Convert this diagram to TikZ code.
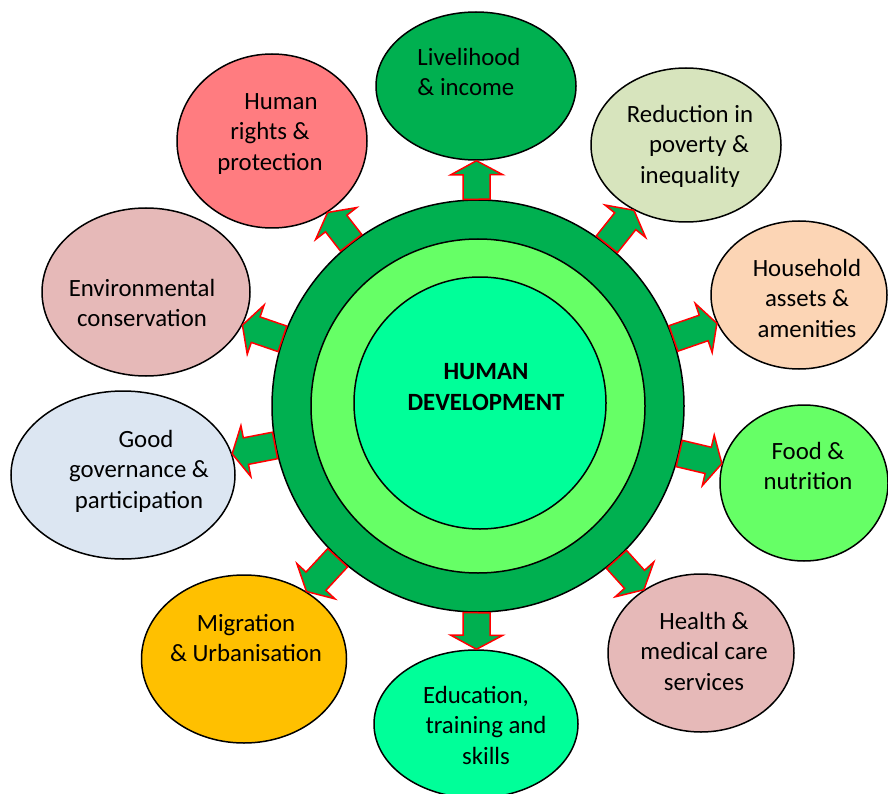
\documentclass[tikz,border=0pt]{standalone}
\usepackage{fontspec}
\setmainfont{Carlito}
\usetikzlibrary{shapes.geometric,calc}
\definecolor{hdgreen}{HTML}{00B050}
\definecolor{hdlight}{HTML}{66FF66}
\definecolor{hdcore}{HTML}{00FF99}
\definecolor{olive}{HTML}{D7E4BD}
\definecolor{peach}{HTML}{FCD5B5}
\definecolor{rose}{HTML}{E6B9B8}
\definecolor{steel}{HTML}{DCE6F2}
\definecolor{amber}{HTML}{FFC000}
\definecolor{salmon}{HTML}{FF7C80}

\begin{document}
\begin{tikzpicture}[x=1pt,y=-1pt,
		ring/.style={circle,draw=black,line width=1.5pt,inner sep=0pt},
		sat/.style={ellipse,draw=black,line width=1.5pt,inner sep=0pt},
		lbl/.style={align=center,font=\fontsize{24.8}{30.5}\selectfont},
		arrowbox/.style={fill=hdgreen,draw=red,line width=1.5pt,line join=miter}]
		\useasboundingbox (0,0) rectangle (888,794);
		\node[ring,fill=hdgreen,minimum size=412pt] (hub) at (478,406) {};
		\node[ring,fill=hdlight,minimum size=334pt] (mid) at (478,406) {};
		\node[ring,fill=hdcore,minimum size=252pt] (core) at (480,403) {};
		\node[lbl,font=\fontsize{24.8}{30.5}\selectfont\bfseries] (title) at (486,387) {HUMAN\\DEVELOPMENT};
		\node[sat,fill=hdgreen,minimum width=200pt,minimum height=148pt] (live) at (476,86) {};
		\node[sat,fill=olive,minimum width=190pt,minimum height=154pt] (pov) at (686,145) {};
		\node[sat,fill=peach,minimum width=176pt,minimum height=148pt] (house) at (799,295) {};
		\node[sat,fill=hdlight,minimum width=168pt,minimum height=156pt] (food) at (804,483) {};
		\node[sat,fill=rose,minimum width=186pt,minimum height=158pt] (health) at (701,653) {};
		\node[sat,fill=hdcore,minimum width=204pt,minimum height=148pt] (edu) at (476,724) {};
		\node[sat,fill=amber,minimum width=205pt,minimum height=168pt] (migr) at (244,659) {};
		\node[sat,fill=steel,minimum width=224pt,minimum height=168pt] (gov) at (123,475) {};
		\node[sat,fill=rose,minimum width=208pt,minimum height=168pt] (env) at (146,292) {};
		\node[sat,fill=salmon,minimum width=190pt,minimum height=174pt] (rights) at (272,141) {};
		\node[lbl,align=left] (live-t) at (469,72) {Livelihood\\\& income};
		\node[lbl] (pov-t) at (690,146) {Reduction in\\\hspace*{18pt}poverty \&\\inequality};
		\node[lbl] (house-t) at (807,298) {Household\\assets \&\\amenities};
		\node[lbl] (food-t) at (808,466) {Food \&\\nutrition};
		\node[lbl] (health-t) at (704,651) {Health \&\\medical care\\services};
		\node[lbl] (edu-t) at (486,725) {Education,\hspace*{20pt}\\training and\\skills};
		\node[lbl] (migr-t) at (246,638) {Migration\\\& Urbanisation};
		\node[lbl] (gov-t) at (139,471) {\hspace*{14pt}Good\\governance \&\\participation};
		\node[lbl] (env-t) at (142,303) {Environmental\\conservation};
		\node[lbl] (rights-t) at (270,134) {\hspace*{22pt}Human\\rights \&\\protection};
		\foreach \s in {live,pov,house,food,health,edu,migr,gov,env,rights}{
			\path (hub) -- coordinate[pos=0] (a) coordinate[pos=1] (b) (\s);
			\coordinate (h) at ($(b)!14pt!(a)$);
			\draw[arrowbox] ($(a)!13.5pt!90:(b)$) -- ($(h)!13.5pt!90:(b)$) -- ($(h)!26pt!90:(b)$) -- (b)
				-- ($(h)!26pt!-90:(b)$) -- ($(h)!13.5pt!-90:(b)$) -- ($(a)!13.5pt!-90:(b)$) -- cycle;
		}
	\end{tikzpicture}
\end{document}
